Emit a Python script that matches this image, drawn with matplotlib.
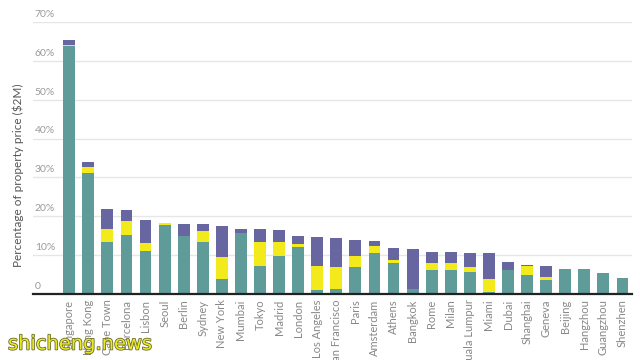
import matplotlib
matplotlib.use("Agg")
import matplotlib.pyplot as plt
import matplotlib.patheffects as pe
import numpy as np

cities = ["Singapore", "Hong Kong", "Cape Town", "Barcelona", "Lisbon", "Seoul", "Berlin",
          "Sydney", "New York", "Mumbai", "Tokyo", "Madrid", "London", "Los Angeles",
          "San Francisco", "Paris", "Amsterdam", "Athens", "Bangkok", "Rome", "Milan",
          "Kuala Lumpur", "Miami", "Dubai", "Shanghai", "Geneva", "Beijing", "Hangzhou",
          "Guangzhou", "Shenzhen"]
teal = [63.7, 31.2, 13.5, 15.3, 11.1, 17.7, 14.9, 13.3, 3.9, 15.6, 7.2, 9.9, 12.2, 1.0,
        1.2, 7.0, 10.6, 8.1, 1.3, 6.2, 6.2, 5.7, 0.6, 6.3, 5.0, 3.7, 6.5, 6.5, 5.4, 4.0]
yellow = [0.5, 1.6, 3.1, 3.5, 1.9, 0.7, 0.0, 3.0, 5.5, 0.0, 6.3, 3.4, 0.7, 6.1,
          5.7, 2.9, 1.7, 0.6, 0.0, 1.7, 1.7, 1.2, 3.3, 0.0, 2.2, 0.7, 0.0, 0.0, 0.0, 0.0]
purple = [1.1, 1.1, 5.3, 2.9, 6.0, 0.0, 3.0, 1.6, 8.0, 1.1, 3.2, 3.1, 2.1, 7.5,
          7.4, 4.0, 1.3, 3.2, 10.4, 2.8, 2.9, 3.7, 6.7, 2.0, 0.3, 2.9, 0.0, 0.0, 0.0, 0.0]
yticks = [0, 10, 20, 30, 40, 50, 60, 70]
ytick_labels = ["0", "10%", "20%", "30%", "40%", "50%", "60%", "70%"]

C_TEAL = "#5f9b98"
C_YEL = "#f2ea1a"
C_PUR = "#6766a0"

fig = plt.figure(figsize=(6.4, 3.6), dpi=100)
ax = fig.add_axes([33/640, 1 - 294/360, (632-33)/640, (294-22)/360])

x = np.arange(len(cities))
t = np.array(teal); yv = np.array(yellow); p = np.array(purple)
ax.bar(x, t, width=0.62, color=C_TEAL, zorder=3)
ax.bar(x, yv, width=0.62, bottom=t, color=C_YEL, zorder=3)
ax.bar(x, p, width=0.62, bottom=t + yv, color=C_PUR, zorder=3)

ax.set_ylim(0, 70)
ax.set_xlim(-1.9, len(cities) - 0.5)
ax.set_yticks(yticks)
ax.yaxis.grid(True, color="#e6e6e6", linewidth=1.0, zorder=0)
ax.tick_params(axis="y", length=0, labelleft=False)
for v, lab in zip(yticks, ytick_labels):
    ax.text(0.003, v + 0.8, lab, transform=ax.get_yaxis_transform(), ha="left", va="bottom",
            fontsize=7.5, color="#9a9a9a", family="Lato")

for s in ["top", "right", "left"]:
    ax.spines[s].set_visible(False)
ax.spines["bottom"].set_color("#222222")
ax.spines["bottom"].set_linewidth(1.6)
ax.spines["bottom"].set_zorder(4)

ax.set_xticks(x)
ax.set_xticklabels(cities, rotation=90, fontsize=8, color="#888888", family="Lato", va="top")
ax.tick_params(axis="x", length=0, pad=4)

fig.text(18/640, 1 - 175/360, "Percentage of property price ($2M)", rotation=90,
         ha="center", va="center", fontsize=8.5, color="#555555", family="Lato")

fig.text(8/640, 1 - 344/360, "shicheng.news", ha="left", va="center", fontsize=14,
         color="#eaea22", family="DejaVu Sans",
         path_effects=[pe.withStroke(linewidth=1.2, foreground="#6b6b30")])

fig.savefig("out.png", dpi=100)
